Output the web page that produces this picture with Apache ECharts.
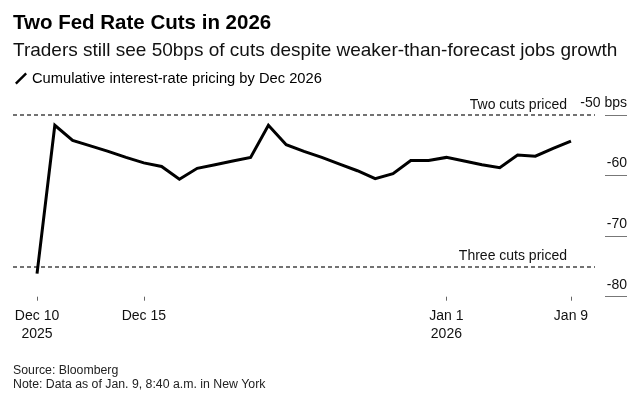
<!DOCTYPE html>
<html>
<head>
<meta charset="utf-8">
<script src="https://cdn.jsdelivr.net/npm/echarts@6/dist/echarts.min.js"></script>
<style>
html,body{margin:0;padding:0;background:#fff;}
#chart{width:637px;height:394px;}
</style>
</head>
<body>
<div id="chart"></div>
<script>
// Daily observations, index 0 = Dec 10 2025 ... index 30 = Jan 9 2026
var pricing = [-76.2, -51.7, -54.2, -55.1, -56.0, -57.0, -57.9, -58.5, -60.6, -58.8,
               -58.2, -57.6, -57.0, -51.7, -54.9, -56.0, -57.0, -58.1, -59.2, -60.5,
               -59.7, -57.5, -57.5, -57.0, -57.6, -58.2, -58.7, -56.6, -56.8, -55.5, -54.3];
var xTickIdx = [0, 6, 23, 30];
var xTickLabels = ['Dec 10\n2025', 'Dec 15', 'Jan 1\n2026', 'Jan 9'];
var yTicks = [-80, -70, -60, -50];
var refValues = [-50, -75];
var refLabels = ['Two cuts priced', 'Three cuts priced'];
var seriesName = 'Cumulative interest-rate pricing by Dec 2026';

var FONT = "'Liberation Sans', Arial, Helvetica, sans-serif";
var points = pricing.map(function (v, i) { return [i, v]; });

var chart = echarts.init(document.getElementById('chart'), null, {renderer: 'canvas'});
chart.setOption({
  animation: false,
  backgroundColor: '#fff',
  textStyle: {fontFamily: FONT},
  title: [
    {text: 'Two Fed Rate Cuts in 2026', left: 13, top: 12.5, padding: 0,
     textStyle: {fontFamily: FONT, fontSize: 20.5, fontWeight: 'bold', color: '#000'}},
    {text: 'Traders still see 50bps of cuts despite weaker-than-forecast jobs growth', left: 13, top: 41.5, padding: 0,
     textStyle: {fontFamily: FONT, fontSize: 19, fontWeight: 'normal', color: '#111'}},
    {text: 'Source: Bloomberg\nNote: Data as of Jan. 9, 8:40 a.m. in New York', left: 13, top: 364, padding: 0,
     textStyle: {fontFamily: FONT, fontSize: 12.3, fontWeight: 'normal', color: '#222', lineHeight: 14}}
  ],
  legend: {
    left: 15, top: 71, padding: 0,
    itemWidth: 12, itemHeight: 12, itemGap: 5,
    data: [{name: seriesName, icon: 'path://M0,10.3 L1.7,12 L12,1.7 L10.3,0 Z'}],
    textStyle: {fontFamily: FONT, fontSize: 14.7, color: '#000', padding: [0, 0, 0, 0]},
    selectedMode: false
  },
  grid: {left: 13, right: 42, top: 115, bottom: 97.3, outerBoundsMode: 'none', containLabel: false},
  xAxis: {
    type: 'value', min: -1.35, max: 31.35,
    axisLine: {show: false, onZero: false},
    splitLine: {show: false},
    axisTick: {show: true, customValues: xTickIdx, length: 4, lineStyle: {color: '#666', width: 1}},
    axisLabel: {
      customValues: xTickIdx, margin: 10,
      fontFamily: FONT, fontSize: 14, color: '#111', lineHeight: 18,
      formatter: function (v) { var k = xTickIdx.indexOf(Math.round(v)); return k >= 0 ? xTickLabels[k] : ''; }
    }
  },
  yAxis: {
    type: 'value', position: 'right', offset: 10,
    min: -80, max: -50, interval: 10,
    axisLine: {show: false, onZero: false},
    splitLine: {show: false},
    axisTick: {show: true, length: 22, inside: false, lineStyle: {color: '#777', width: 1}},
    axisLabel: {
      margin: 22, align: 'right', verticalAlign: 'bottom', padding: [0, 0, 5, 0],
      fontFamily: FONT, fontSize: 14, color: '#111',
      formatter: function (v) { return v === -50 ? '-50 bps' : String(v); }
    }
  },
  series: [{
    name: seriesName,
    type: 'line',
    data: points,
    symbol: 'none',
    color: '#000',
    lineStyle: {color: '#000', width: 3, join: 'miter'},
    z: 5,
    markLine: {
      silent: true,
      symbol: 'none',
      lineStyle: {color: '#444', width: 1.5, type: [4, 3]},
      label: {
        show: true, position: 'insideEndTop', distance: 3,
        fontFamily: FONT, fontSize: 14, color: '#111',
        padding: [0, 25, 0, 0],
        formatter: function (p) { return refLabels[refValues.indexOf(p.value)]; }
      },
      data: refValues.map(function (v) { return {yAxis: v}; })
    }
  }]
});
</script>
</body>
</html>
